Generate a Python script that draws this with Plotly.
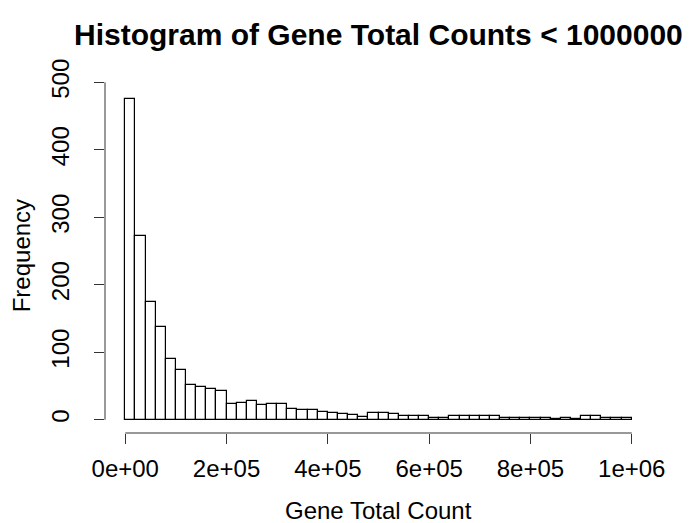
import plotly.graph_objects as go

# Histogram counts per bin (bin width 20,000 from 0 to 1,000,000)
bin_start = 0
bin_width = 20000
counts = [476, 272, 174, 137, 90, 73, 52, 48, 46, 42,
          23, 25, 27, 22, 24, 23, 16, 14, 15, 11,
          10, 9, 7, 4, 10, 10, 9, 6, 6, 5,
          3, 2, 5, 5, 6, 6, 6, 3, 2, 3,
          2, 3, 1, 2, 1, 5, 5, 3, 2, 2]
x_tick_vals = [0, 200000, 400000, 600000, 800000, 1000000]
x_tick_text = ["0e+00", "2e+05", "4e+05", "6e+05", "8e+05", "1e+06"]
y_tick_vals = [0, 100, 200, 300, 400, 500]
y_tick_text = ["0", "100", "200", "300", "400", "500"]

centers = [bin_start + bin_width * (i + 0.5) for i in range(len(counts))]

FONT = "Liberation Sans, Arial, Helvetica, sans-serif"

fig = go.Figure()
fig.add_trace(go.Bar(
    x=centers, y=counts, width=[bin_width] * len(counts),
    marker=dict(color="white", line=dict(color="black", width=1.2)),
    showlegend=False, hoverinfo="x+y",
))

W, H = 690, 523
l, r, t, b = 104.7, 38.3, 79.1, 89.7
fig.update_layout(
    width=W, height=H,
    margin=dict(l=l, r=r, t=t, b=b, pad=0),
    plot_bgcolor="white", paper_bgcolor="white",
    bargap=0,
    font=dict(family=FONT, size=24, color="black"),
    xaxis=dict(range=[-40000, 1040000], tickvals=x_tick_vals, ticktext=x_tick_text,
               ticks="outside", ticklen=10, tickwidth=1, tickcolor="#333",
               showgrid=False, zeroline=False, showline=False,
               tickfont=dict(size=24, family=FONT), ticklabelstandoff=4),
    yaxis=dict(range=[-19.7, 505], tickvals=y_tick_vals, ticktext=y_tick_text,
               ticks="outside", ticklen=10, tickwidth=1, tickcolor="#333",
               showgrid=False, zeroline=False, showline=False, tickangle=-90,
               tickfont=dict(size=24, family=FONT), ticklabelstandoff=15),
    shapes=[
        dict(type="line", xref="x", yref="paper", x0=0, x1=1000000, y0=0, y1=0,
             line=dict(color="#333", width=1)),
        dict(type="line", xref="paper", yref="y", x0=0, x1=0, y0=0, y1=500,
             line=dict(color="#333", width=1)),
    ],
    annotations=[
        dict(text="<b>Histogram of Gene Total Counts < 1000000</b>", xref="paper", yref="paper",
             x=0.5, y=(H - 35 - b) / (H - t - b), xanchor="center", yanchor="middle",
             showarrow=False, font=dict(size=30, family=FONT)),
        dict(text="Gene Total Count", xref="paper", yref="paper",
             x=0.5, y=(H - 511 - b) / (H - t - b), xanchor="center", yanchor="middle",
             showarrow=False, font=dict(size=24, family=FONT)),
        dict(text="Frequency", xref="paper", yref="paper", textangle=-90,
             x=(21 - l) / (W - l - r), y=0.5, xanchor="center", yanchor="middle",
             showarrow=False, font=dict(size=24, family=FONT)),
    ],
)

fig.write_html("out.html", config={"displayModeBar": False},
               post_script="document.body.style.margin='0';document.body.style.padding='0';")
